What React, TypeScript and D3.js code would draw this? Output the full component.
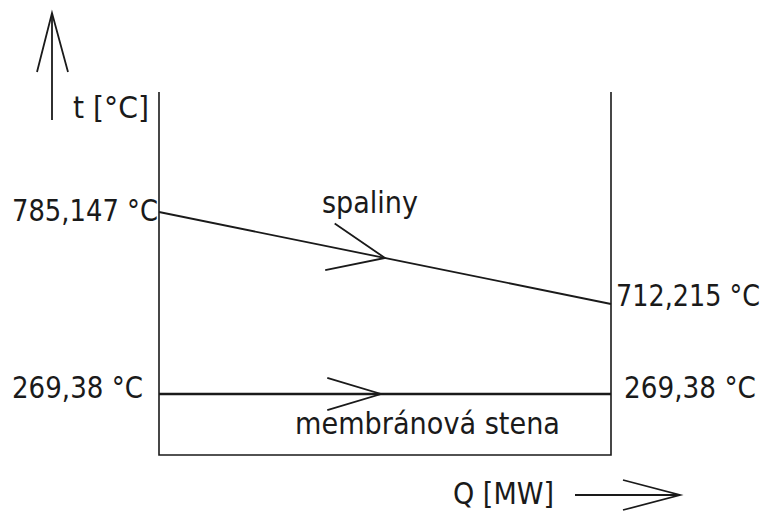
import React from "react"
import * as d3 from "d3"

// Q axis: inlet / outlet of the heating surface (schematic)
const qPoints = ["in", "out"]
// flue gas temperatures [°C]
const spalinyTemps = [785.147, 712.215]
// membrane wall temperatures [°C]
const stenaTemps = [269.38, 269.38]
const spalinyLabels = ["785,147 °C", "712,215 °C"]
const stenaLabels = ["269,38 °C", "269,38 °C"]

const W = 766
const H = 513

const color = "#1a1a1a"
const font = "'DejaVu Sans', sans-serif"

// tall, narrow lettering like the CAD font in the drawing
const Label: React.FC<{ x: number; y: number; w: number; children: string }> = ({ x, y, w, children }) => (
  <text
    transform={`translate(${x},${y}) scale(1,1.24)`}
    fontSize={25}
    textLength={w}
    lengthAdjust="spacingAndGlyphs"
    fill={color}
    fontFamily={font}
  >
    {children}
  </text>
)

const App: React.FC = () => {
  const x = d3.scalePoint<string>().domain(qPoints).range([159, 611])
  // schematic (not to scale) temperature axis
  const y = d3
    .scaleLinear()
    .domain([269.38, 712.215, 785.147])
    .range([394, 304, 212])

  const line = d3
    .line<number>()
    .x((_, i) => x(qPoints[i]) || 0)
    .y((d) => y(d))

  // arrow head pointing along a segment at fraction t
  const arrowHead = (x0: number, y0: number, x1: number, y1: number, t: number, len: number, spread: number) => {
    const ax = x0 + (x1 - x0) * t
    const ay = y0 + (y1 - y0) * t
    const ang = Math.atan2(y1 - y0, x1 - x0)
    const p1 = [ax - len * Math.cos(ang - spread), ay - len * Math.sin(ang - spread)]
    const p2 = [ax - len * Math.cos(ang + spread), ay - len * Math.sin(ang + spread)]
    return `M${p1[0]},${p1[1]}L${ax},${ay}L${p2[0]},${p2[1]}`
  }

  const xl = x("in") || 0
  const xr = x("out") || 0
  const top = 92
  const bottom = 455

  return (
    <svg width={W} height={H} style={{ position: "absolute", left: 0, top: 0 }}>
      <rect width={W} height={H} fill="#fff" />
      {/* frame */}
      <path
        d={`M${xl},${top}V${bottom}H${xr}V${top}`}
        fill="none"
        stroke={color}
        strokeWidth={1.6}
      />
      {/* flue gas line */}
      <path d={line(spalinyTemps) || ""} fill="none" stroke={color} strokeWidth={1.8} />
      <path
        d={arrowHead(xl, y(spalinyTemps[0]), xr, y(spalinyTemps[1]), 0.5, 61, 0.4)}
        fill="none"
        stroke={color}
        strokeWidth={1.8}
      />
      {/* membrane wall line */}
      <path d={line(stenaTemps) || ""} fill="none" stroke={color} strokeWidth={2.6} />
      <path
        d={arrowHead(xl, y(stenaTemps[0]), xr, y(stenaTemps[1]), 0.491, 56, 0.29)}
        fill="none"
        stroke={color}
        strokeWidth={1.8}
      />
      {/* t axis arrow */}
      <path d="M52,120V13" stroke={color} strokeWidth={1.8} />
      <path d="M37,72L52,13L68,72" fill="none" stroke={color} strokeWidth={1.8} />
      {/* Q axis arrow */}
      <path d="M575,495H680" stroke={color} strokeWidth={1.8} />
      <path d="M623,480L680,495L623,510" fill="none" stroke={color} strokeWidth={1.8} />

      <Label x={73} y={118} w={76}>t [°C]</Label>
      <Label x={12} y={221} w={146}>{spalinyLabels[0]}</Label>
      <Label x={616} y={306} w={144}>{spalinyLabels[1]}</Label>
      <Label x={12} y={398} w={131}>{stenaLabels[0]}</Label>
      <Label x={624} y={398} w={132}>{stenaLabels[1]}</Label>
      <Label x={322} y={213} w={96}>spaliny</Label>
      <Label x={295} y={434} w={265}>membránová stena</Label>
      <Label x={453} y={504} w={101}>Q [MW]</Label>
    </svg>
  )
}

export default App
